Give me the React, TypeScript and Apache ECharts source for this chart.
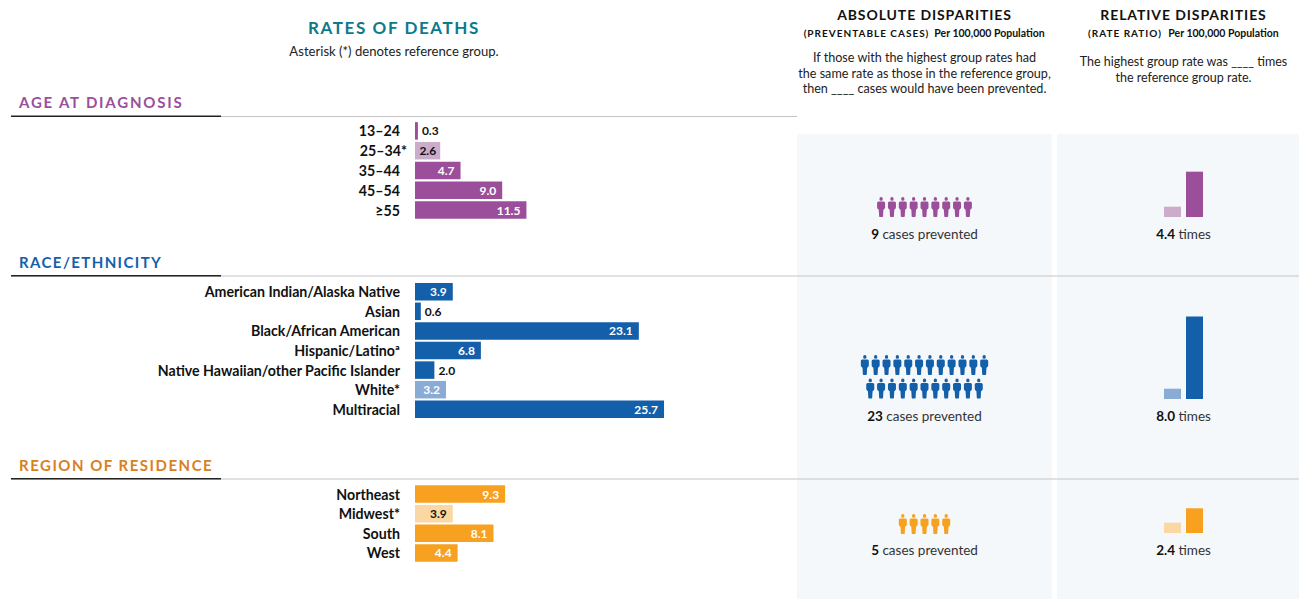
import React, { useEffect, useRef } from "react";
import * as echarts from "echarts";

const ageCategories = ["13–24", "25–34*", "35–44", "45–54", "≥55"];
const ageValues = [0.3, 2.6, 4.7, 9.0, 11.5];
const raceCategories = ["American Indian/Alaska Native", "Asian", "Black/African American", "Hispanic/Latinoª", "Native Hawaiian/other Pacific Islander", "White*", "Multiracial"];
const raceValues = [3.9, 0.6, 23.1, 6.8, 2.0, 3.2, 25.7];
const regionCategories = ["Northeast", "Midwest*", "South", "West"];
const regionValues = [9.3, 3.9, 8.1, 4.4];
const ageCases = [9];
const raceCaseRows = [12, 11];
const regionCases = [5];
const caseTotals = [9, 23, 5];
const ratios = [4.4, 8.0, 2.4];

const BODY = "Lato, 'Open Sans', sans-serif";
const HEAD = "Lato, 'Open Sans', sans-serif";
const PURPLE = "#9b4f9b", PURPLE_L = "#cbaccb";
const BLUE = "#145fa9", BLUE_L = "#8aabd3";
const ORANGE = "#f8a01f", ORANGE_L = "#fbd7a3";
const PANEL = "#f4f8fb";
const INK = "#111111";
const PX_PER_UNIT = 9.69;
const PERSON_PITCH = 10.85;
const PERSON_W = 8;
const PERSON = "path://M4.5 0a1.9 1.9 0 1 1 0 3.8a1.9 1.9 0 1 1 0-3.8ZM1.6 4.4H7.4C8.3 4.4 9 5.2 9 6.1V10.5C9 11.3 8.5 11.8 7.8 12.3L7.1 12.8L6.7 19.3C6.7 19.7 6.4 20 6 20H3C2.6 20 2.3 19.7 2.3 19.3L1.9 12.8L1.2 12.3C.5 11.8 0 11.3 0 10.5V6.1C0 5.2 .7 4.4 1.6 4.4Z";

const spacing: Record<string, string> = {
  "RATES OF DEATHS": "1.6px",
  "AGE AT DIAGNOSIS": "1.8px",
  "RACE/ETHNICITY": "1.4px",
  "REGION OF RESIDENCE": "1.5px",
  "ABSOLUTE DISPARITIES": "0.9px",
  "RELATIVE DISPARITIES": "0.9px",
  "(PREVENTABLE CASES)": "1px",
  "(RATE RATIO)": "1px",
};

function txt(text: string, x: number, y: number, o: any = {}) {
  return {
    type: "text", x, y, z: 5,
    style: {
      text, fontFamily: BODY, fontSize: 13, fill: "#222", align: "center", verticalAlign: "middle", ...o,
    },
  };
}
function rect(x: number, y: number, w: number, h: number, fill: string) {
  return { type: "rect", z: 0, shape: { x, y, width: w, height: h }, style: { fill } };
}
function richLabel(num: string, rest: string, x: number, y: number) {
  return {
    type: "text", x, y, z: 5,
    style: {
      text: `{b|${num}}{r| ${rest}}`, align: "center", verticalAlign: "middle",
      rich: {
        b: { fontFamily: BODY, fontSize: 13.5, fontWeight: 700, fill: INK },
        r: { fontFamily: BODY, fontSize: 13.5, fill: "#333" },
      },
    },
  };
}

export default function App() {
  const ref = useRef<HTMLDivElement>(null);
  useEffect(() => {
    const chart = echarts.init(ref.current!, undefined, { renderer: "svg" });

    const barGroups = [
      { cats: ageCategories, vals: ageValues, top: 121, pitch: 19.8, color: PURPLE, light: PURPLE_L, lightInk: INK, hang: true },
      { cats: raceCategories, vals: raceValues, top: 281.9, pitch: 19.6, color: BLUE, light: BLUE_L, lightInk: "#fff", hang: false },
      { cats: regionCategories, vals: regionValues, top: 484.2, pitch: 19.65, color: ORANGE, light: ORANGE_L, lightInk: INK, hang: false },
    ];
    const grids: any[] = [], xAxes: any[] = [], yAxes: any[] = [], series: any[] = [];

    barGroups.forEach((g) => {
      const i = grids.length;
      grids.push({ left: 415, top: g.top, width: PX_PER_UNIT * 30, height: g.pitch * g.cats.length, containLabel: false });
      xAxes.push({ gridIndex: i, type: "value", min: 0, max: 30, show: false });
      yAxes.push({
        gridIndex: i, type: "category", inverse: true,
        data: g.cats.map((c) => ({
          value: c,
          textStyle: { padding: [0, g.hang && !c.endsWith("*") ? 7 : 0, 2, 0] },
        })),
        axisLine: { show: false }, axisTick: { show: false },
        axisLabel: { margin: g.hang ? 8 : 15, fontFamily: HEAD, fontWeight: 700, fontSize: 14.2, color: INK, interval: 0 },
      });
      series.push({
        type: "bar", xAxisIndex: i, yAxisIndex: i, barWidth: 17.5,
        data: g.vals.map((v, k) => {
          const isRef = g.cats[k].endsWith("*");
          const outside = v <= 2;
          return {
            value: v,
            itemStyle: { color: isRef ? g.light : g.color },
            label: {
              show: true,
              position: outside ? "right" : "insideRight",
              distance: outside ? 4 : v < 3 ? 4 : 6,
              color: outside ? INK : isRef ? g.lightInk : "#fff",
              fontFamily: BODY, fontWeight: 700, fontSize: 12,
              formatter: v.toFixed(1),
            },
          };
        }),
      });
    });

    const miniBars = [
      { ratio: ratios[0], top: 114, color: PURPLE, light: PURPLE_L },
      { ratio: ratios[1], top: 296, color: BLUE, light: BLUE_L },
      { ratio: ratios[2], top: 430, color: ORANGE, light: ORANGE_L },
    ];
    miniBars.forEach((m) => {
      const i = grids.length;
      grids.push({ left: 1161.5, top: m.top, width: 44, height: 103 });
      xAxes.push({ gridIndex: i, type: "category", data: ["Reference", "Highest"], show: false });
      yAxes.push({ gridIndex: i, type: "value", min: 0, max: 10, show: false });
      series.push({
        type: "bar", xAxisIndex: i, yAxisIndex: i, barWidth: 17,
        data: [
          { value: 1, itemStyle: { color: m.light } },
          { value: m.ratio, itemStyle: { color: m.color } },
        ],
      });
    });

    const people = [
      { n: ageCases[0], top: 197, color: PURPLE },
      { n: raceCaseRows[0], top: 355, color: BLUE },
      { n: raceCaseRows[1], top: 378.5, color: BLUE },
      { n: regionCases[0], top: 514, color: ORANGE },
    ];
    people.forEach((p) => {
      const i = grids.length;
      const w = p.n * PERSON_PITCH;
      grids.push({ left: 924.5 - w / 2, top: p.top, width: w, height: 20 });
      xAxes.push({ gridIndex: i, type: "value", min: 0, max: p.n, show: false });
      yAxes.push({ gridIndex: i, type: "category", data: ["cases"], show: false });
      series.push({
        type: "pictorialBar", xAxisIndex: i, yAxisIndex: i,
        symbol: PERSON, symbolRepeat: true, symbolSize: [PERSON_W, 20],
        symbolMargin: `${(PERSON_PITCH - PERSON_W) / 2}!`, symbolPosition: "start",
        itemStyle: { color: p.color },
        data: [p.n],
      });
    });

    const graphic: any[] = [
      rect(797, 134, 255, 465, PANEL),
      rect(1057, 134, 242, 465, PANEL),
      rect(11, 116, 786, 1, "#c4c4c4"),
      rect(11, 115.5, 210, 1.6, "#222"),
      rect(11, 275.5, 1288, 1, "#c4c4c4"),
      rect(11, 275, 210, 1.6, "#222"),
      rect(11, 478.5, 1288, 1, "#c4c4c4"),
      rect(11, 478, 210, 1.6, "#222"),
      txt("RATES OF DEATHS", 394, 27.5, { fontSize: 17, fontWeight: 700, fill: "#0d7a8c" }),
      txt("Asterisk (*) denotes reference group.", 394, 50.5, { fontSize: 13.1 }),
      txt("AGE AT DIAGNOSIS", 19, 102, { align: "left", fontSize: 15, fontWeight: 700, fill: PURPLE }),
      txt("RACE/ETHNICITY", 19, 262, { align: "left", fontSize: 15, fontWeight: 700, fill: BLUE }),
      txt("REGION OF RESIDENCE", 19, 465, { align: "left", fontSize: 15, fontWeight: 700, fill: "#d9801e" }),
      txt("ABSOLUTE DISPARITIES", 924.5, 14, { fontSize: 14, fontWeight: 700, fill: INK }),
      txt("(PREVENTABLE CASES)", 866.5, 33, { fontSize: 10, fontWeight: 700, fill: INK }),
      txt("Per 100,000 Population", 989.5, 33, { fontSize: 10.5, fontWeight: 700, fill: INK }),
      txt("If those with the highest group rates had", 924.5, 57, { fontSize: 12.6 }),
      txt("the same rate as those in the reference group,", 924.5, 73, { fontSize: 12.6 }),
      txt("then ____ cases would have been prevented.", 924.5, 88, { fontSize: 12.6 }),
      txt("RELATIVE DISPARITIES", 1183.5, 14, { fontSize: 14, fontWeight: 700, fill: INK }),
      txt("(RATE RATIO)", 1125, 33, { fontSize: 10, fontWeight: 700, fill: INK }),
      txt("Per 100,000 Population", 1223.5, 33, { fontSize: 10.5, fontWeight: 700, fill: INK }),
      txt("The highest group rate was ____ times", 1183.5, 61.5, { fontSize: 12.5 }),
      txt("the reference group rate.", 1183.5, 77, { fontSize: 12.5 }),
      richLabel(String(caseTotals[0]), "cases prevented", 924.5, 234),
      richLabel(String(caseTotals[1]), "cases prevented", 924.5, 416),
      richLabel(String(caseTotals[2]), "cases prevented", 924.5, 550),
      richLabel(ratios[0].toFixed(1), "times", 1183.5, 234),
      richLabel(ratios[1].toFixed(1), "times", 1183.5, 416),
      richLabel(ratios[2].toFixed(1), "times", 1183.5, 550),
    ];

    chart.setOption({
      animation: false,
      backgroundColor: "#ffffff",
      tooltip: { show: false },
      grid: grids, xAxis: xAxes, yAxis: yAxes, series,
      graphic: { elements: graphic },
    });

    ref.current!.querySelectorAll("text").forEach((t) => {
      const s = spacing[(t.textContent || "").trim()];
      if (s) t.setAttribute("letter-spacing", s);
    });
    return () => chart.dispose();
  }, []);
  return <div ref={ref} style={{ position: "absolute", left: 0, top: 0, width: 1299, height: 599 }} />;
}
